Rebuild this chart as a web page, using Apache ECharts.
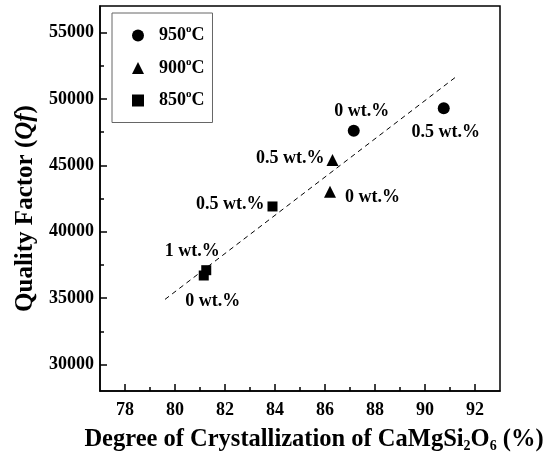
<!DOCTYPE html>
<html>
<head>
<meta charset="utf-8">
<script src="https://cdn.jsdelivr.net/npm/echarts@6/dist/echarts.min.js"></script>
<style>html,body{margin:0;padding:0;background:#fff}#c{width:543px;height:455px}</style>
</head>
<body>
<div id="c"></div>
<script>
// ---- data ----
const seriesNames = ['950°C', '900°C', '850°C'];
const x950 = [87.15, 90.75];
const y950 = [47600, 49300];
const lab950 = ['0 wt.%', '0.5 wt.%'];
const x900 = [86.3, 86.2];
const y900 = [45400, 43000];
const lab900 = ['0.5 wt.%', '0 wt.%'];
const x850 = [83.9, 81.25, 81.15];
const y850 = [41900, 37100, 36700];
const lab850 = ['0.5 wt.%', '1 wt.%', '0 wt.%'];
const fitX = [79.6, 91.3];
const fitY = [34900, 51750];
const xTickLabels = [78, 80, 82, 84, 86, 88, 90, 92];
const xMinorTicks = [79, 81, 83, 85, 87, 89, 91];
const yTickLabels = [30000, 35000, 40000, 45000, 50000, 55000];
const yMinorTicks = [32500, 37500, 42500, 47500, 52500];

// ---- style ----
const FONT = '"Liberation Serif", "Times New Roman", serif';
const labelBase = {show: true, color: '#000', fontFamily: FONT, fontWeight: 'bold', fontSize: 18};
const labelPlace = {
  '950°C': [{position: 'top', offset: [8, 1]}, {position: 'bottom', offset: [2, 4]}],
  '900°C': [{position: 'left', offset: [3, -2]}, {position: 'right', offset: [4, 5]}],
  '850°C': [{position: 'left', offset: [2, -2]}, {position: 'top', offset: [-14, 0]}, {position: 'bottom', offset: [9, 7]}]
};
function pts(name, xs, ys, labs) {
  return xs.map((x, i) => ({
    value: [x, ys[i]],
    label: Object.assign({}, labelBase, labelPlace[name][i], {formatter: labs[i]})
  }));
}

const chart = echarts.init(document.getElementById('c'), null, {renderer: 'canvas'});
const axisText = {fontFamily: FONT, fontWeight: 'bold', fontSize: 18, color: '#000'};
const option = {
  animation: false,
  backgroundColor: '#fff',
  grid: {left: 100, right: 43, top: 6, bottom: 64, outerBoundsMode: 'none', containLabel: false, show: true, borderColor: '#000', borderWidth: 1.5, backgroundColor: 'transparent'},
  legend: {
    data: seriesNames,
    orient: 'vertical',
    left: 112, top: 13,
    padding: [11, 8, 13, 20],
    itemGap: 12,
    itemWidth: 12, itemHeight: 12,
    borderColor: '#666', borderWidth: 1,
    formatter: n => n.replace('°C', '{s|o}C'),
    textStyle: {
      fontFamily: FONT, fontWeight: 'bold', fontSize: 18, color: '#000', padding: [0, 0, 0, 10],
      rich: {s: {fontFamily: FONT, fontSize: 11, color: '#000', padding: [0, 0, 12, 0]}}
    }
  },
  xAxis: [{
    type: 'value', min: 77, max: 93,
    name: '{b|Degree of Crystallization of CaMgSi}{s|2}{b|O}{s|6}{b| (%)}',
    nameLocation: 'middle', nameGap: 36,
    nameTextStyle: {
      padding: [0, 0, 0, 28],
      rich: {
        b: {fontFamily: FONT, fontWeight: 'bold', fontSize: 24.5, color: '#000'},
        s: {fontFamily: FONT, fontWeight: 'bold', fontSize: 14, color: '#000', padding: [12, 0, 0, 0]}
      }
    },
    axisLine: {show: true, lineStyle: {color: '#000', width: 1.5}},
    axisTick: {show: true, inside: true, length: 7, customValues: xTickLabels, lineStyle: {color: '#000', width: 1.5}},
    axisLabel: Object.assign({customValues: xTickLabels, margin: 10, formatter: v => String(v)}, axisText),
    splitLine: {show: false}
  }, {
    type: 'value', min: 77, max: 93, position: 'bottom',
    axisLine: {show: false},
    axisTick: {show: true, inside: true, length: 4, customValues: xMinorTicks, lineStyle: {color: '#000', width: 1.5}},
    axisLabel: {show: false},
    splitLine: {show: false}
  }],
  yAxis: [{
    type: 'value', min: 28000, max: 57000,
    name: '{b|Quality Factor (}{i|Qf}{b|)}',
    nameLocation: 'middle', nameGap: 61, nameRotate: 90,
    nameTextStyle: {
      padding: [0, 20, 0, 0],
      rich: {
        b: {fontFamily: FONT, fontWeight: 'bold', fontSize: 25, color: '#000'},
        i: {fontFamily: FONT, fontWeight: 'bold', fontStyle: 'italic', fontSize: 25, color: '#000'}
      }
    },
    axisLine: {show: true, lineStyle: {color: '#000', width: 1.5}},
    axisTick: {show: true, inside: true, length: 7, customValues: yTickLabels, lineStyle: {color: '#000', width: 1.5}},
    axisLabel: Object.assign({customValues: yTickLabels, margin: 6, formatter: v => String(v)}, axisText),
    splitLine: {show: false}
  }, {
    type: 'value', min: 28000, max: 57000, position: 'left',
    axisLine: {show: false},
    axisTick: {show: true, inside: true, length: 4, customValues: yMinorTicks, lineStyle: {color: '#000', width: 1.5}},
    axisLabel: {show: false},
    splitLine: {show: false}
  }],
  series: [
    {name: '950°C', type: 'scatter', symbol: 'circle', symbolSize: 12, itemStyle: {color: '#000', opacity: 1}, data: pts('950°C', x950, y950, lab950)},
    {name: '900°C', type: 'scatter', symbol: 'triangle', symbolSize: 12, itemStyle: {color: '#000', opacity: 1}, data: pts('900°C', x900, y900, lab900)},
    {name: '850°C', type: 'scatter', symbol: 'rect', symbolSize: 10, itemStyle: {color: '#000', opacity: 1}, data: pts('850°C', x850, y850, lab850)},
    {name: 'fit', type: 'line', symbol: 'none', lineStyle: {color: '#000', width: 1, type: [5, 4]}, data: fitX.map((x, i) => [x, fitY[i]]), z: 1}
  ]
};
chart.setOption(option);
</script>
</body>
</html>
